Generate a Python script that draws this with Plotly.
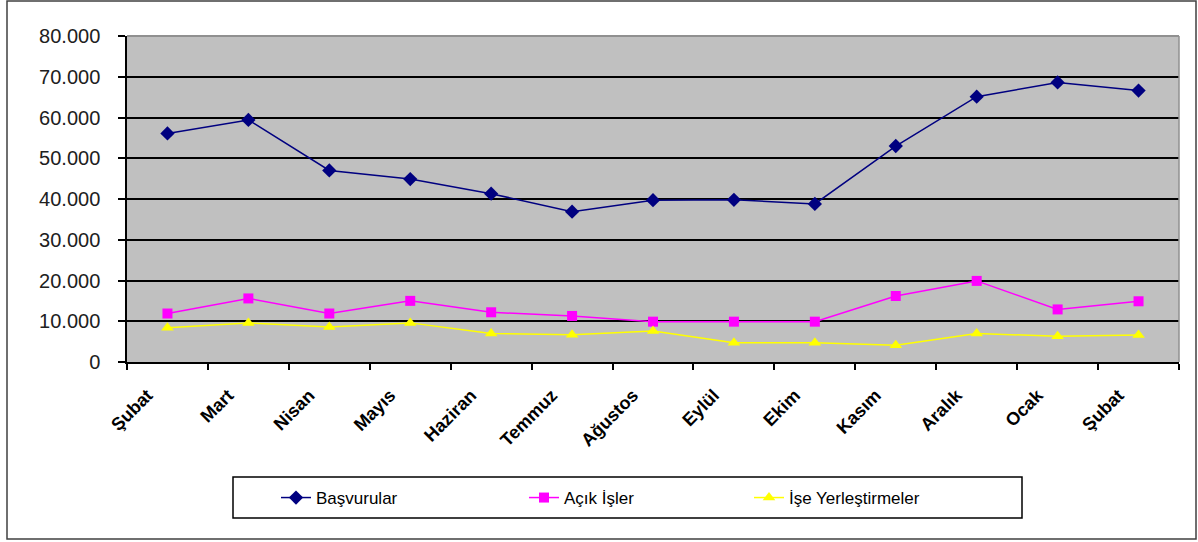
import plotly.graph_objects as go

months = ["Şubat", "Mart", "Nisan", "Mayıs", "Haziran", "Temmuz", "Ağustos",
          "Eylül", "Ekim", "Kasım", "Aralık", "Ocak", "Şubat"]
basvurular = [56100, 59400, 47000, 44900, 41300, 36900, 39700,
              39800, 38800, 53000, 65100, 68600, 66600]
acik_isler = [11900, 15600, 11900, 15000, 12200, 11300, 9900,
              9900, 9900, 16200, 19900, 12900, 14900]
ise_yerlestirmeler = [8400, 9600, 8600, 9600, 7000, 6700, 7600,
                      4700, 4700, 4100, 7000, 6300, 6600]

x = list(range(len(months)))

fig = go.Figure()
fig.add_trace(go.Scatter(x=x, y=basvurular, name="Başvurular", mode="lines+markers",
                         line=dict(color="#000080", width=1.5),
                         marker=dict(symbol="diamond", size=11, color="#000080"),
                         legend="legend"))
fig.add_trace(go.Scatter(x=x, y=acik_isler, name="Açık İşler", mode="lines+markers",
                         line=dict(color="#FF00FF", width=1.5),
                         marker=dict(symbol="square", size=10, color="#FF00FF"),
                         legend="legend2"))
fig.add_trace(go.Scatter(x=x, y=ise_yerlestirmeler, name="İşe Yerleştirmeler", mode="lines+markers",
                         line=dict(color="#FFFF00", width=1.5),
                         marker=dict(symbol="triangle-up", size=11, color="#FFFF00"),
                         legend="legend3"))

L, R, T, B = 127, 19, 36, 180
W, H = 1198, 542
pw, ph = W - L - R, H - T - B

def px_x(p):
    return (p - L) / pw

def px_y(p):
    return (H - B - p) / ph

FONT = "Liberation Sans, Arial, sans-serif"
leg_common = dict(orientation="h", yanchor="middle", y=px_y(498), xanchor="left",
                  bgcolor="rgba(0,0,0,0)", borderwidth=0,
                  font=dict(size=17, family=FONT, color="black"), itemwidth=30)

# outer frame
fig.add_shape(type="rect", xref="paper", yref="paper",
              x0=px_x(7), x1=px_x(1196), y0=px_y(539), y1=px_y(1),
              line=dict(color="#404040", width=1.5), layer="below")
# legend box
fig.add_shape(type="rect", xref="paper", yref="paper",
              x0=px_x(233), x1=px_x(1022), y0=px_y(518), y1=px_y(477),
              line=dict(color="black", width=1.5), fillcolor="white", layer="below")
# gray top/right plot border
fig.add_shape(type="line", xref="paper", yref="paper", x0=0, x1=1, y0=1, y1=1,
              line=dict(color="#909090", width=2))
fig.add_shape(type="line", xref="paper", yref="paper", x0=1, x1=1, y0=0, y1=1,
              line=dict(color="#909090", width=1.5))

fig.update_layout(
    width=W, height=H,
    margin=dict(l=L, r=R, t=T, b=B),
    paper_bgcolor="white",
    plot_bgcolor="#C0C0C0",
    separators=",.",
    font=dict(family=FONT, color="black"),
    showlegend=True,
    legend=dict(leg_common, x=px_x(276)),
    legend2=dict(leg_common, x=px_x(524)),
    legend3=dict(leg_common, x=px_x(749)),
    xaxis=dict(range=[-0.5, len(months) - 0.5], tickvals=x, ticktext=months,
               tickangle=-45, ticks="", showgrid=False, zeroline=False,
               ticklabelshift=-20, ticklabelstandoff=14,
               tickfont=dict(size=18, family=FONT, weight="bold", color="black"),
               showline=True, linecolor="black", linewidth=1.5, mirror=False,
               minor=dict(tick0=-0.5, dtick=1, ticks="outside", ticklen=6,
                          tickcolor="black", tickwidth=1.5, showgrid=False)),
    yaxis=dict(range=[0, 80000], dtick=10000, tickformat=",d",
               ticks="outside", ticklen=7, tickcolor="black", tickwidth=1.5,
               ticklabelstandoff=14,
               showgrid=True, gridcolor="black", gridwidth=1.5, zeroline=False,
               showline=True, linecolor="black", linewidth=1.5,
               tickfont=dict(size=20, family=FONT, color="#202020")),
)

fig.write_html("out.html", config={"displayModeBar": False},
               post_script="document.body.style.margin='0';")
